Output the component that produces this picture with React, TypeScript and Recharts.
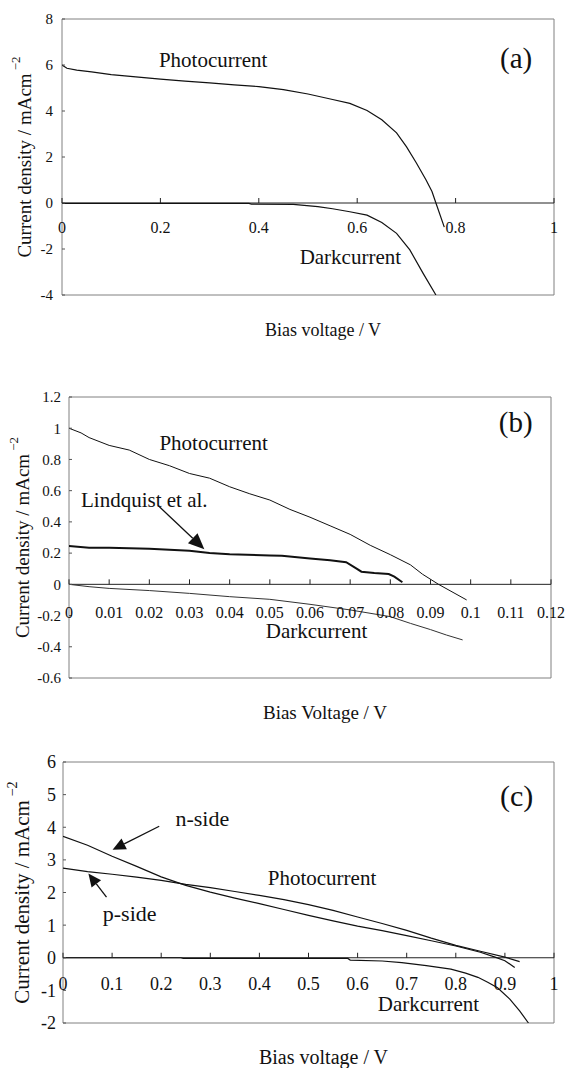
import React from 'react';
import {
  LineChart,
  Line,
  XAxis,
  YAxis,
  ReferenceLine,
  ReferenceArea,
  ReferenceDot,
} from 'recharts';

const FONT = "'Liberation Serif', 'Times New Roman', Times, serif";
const INK = '#111';

type Pt = [number, number];

// ---------- Panel (a) ----------
const aXTicks = [0, 0.2, 0.4, 0.6, 0.8, 1];
const aXTickLabels = ['0', '0.2', '0.4', '0.6', '0.8', '1'];
const aYTicks = [-4, -2, 0, 2, 4, 6, 8];
const aPhotocurrent: Pt[] = [
  [0, 6.0], [0.01, 5.86], [0.03, 5.78], [0.06, 5.7], [0.1, 5.58], [0.15, 5.48],
  [0.2, 5.39], [0.25, 5.3], [0.3, 5.22], [0.35, 5.14], [0.4, 5.06], [0.45, 4.93],
  [0.5, 4.74], [0.55, 4.5], [0.585, 4.33], [0.62, 4.02], [0.65, 3.62], [0.68, 3.05],
  [0.7, 2.45], [0.72, 1.75], [0.74, 1.0], [0.752, 0.5], [0.76, 0], [0.777, -1.05],
];
const aDarkcurrent: Pt[] = [
  [0, -0.02], [0.38, -0.02], [0.385, -0.05], [0.47, -0.06], [0.52, -0.16],
  [0.55, -0.25], [0.585, -0.38], [0.62, -0.53], [0.65, -0.85], [0.68, -1.32],
  [0.707, -2.04], [0.734, -3.06], [0.76, -4.0],
];

// ---------- Panel (b) ----------
const bXTicks = [0, 0.01, 0.02, 0.03, 0.04, 0.05, 0.06, 0.07, 0.08, 0.09, 0.1, 0.11, 0.12];
const bXTickLabels = ['0', '0.01', '0.02', '0.03', '0.04', '0.05', '0.06', '0.07', '0.08', '0.09', '0.1', '0.11', '0.12'];
const bYTicks = [-0.6, -0.4, -0.2, 0, 0.2, 0.4, 0.6, 0.8, 1, 1.2];
const bPhotocurrent: Pt[] = [
  [0, 1.0], [0.003, 0.97], [0.005, 0.94], [0.01, 0.89], [0.015, 0.86], [0.02, 0.8],
  [0.025, 0.76], [0.03, 0.71], [0.035, 0.68], [0.04, 0.625], [0.045, 0.58],
  [0.05, 0.54], [0.055, 0.48], [0.06, 0.43], [0.065, 0.375], [0.07, 0.32],
  [0.075, 0.25], [0.08, 0.19], [0.085, 0.125], [0.088, 0.065], [0.092, 0], [0.099, -0.1],
];
const bLindquist: Pt[] = [
  [0, 0.245], [0.005, 0.235], [0.01, 0.235], [0.02, 0.228], [0.03, 0.215],
  [0.035, 0.2], [0.04, 0.192], [0.05, 0.185], [0.053, 0.183], [0.06, 0.165],
  [0.065, 0.155], [0.069, 0.142], [0.0715, 0.102], [0.0728, 0.081], [0.076, 0.072],
  [0.0796, 0.066], [0.081, 0.049], [0.083, 0.013],
];
const bDarkcurrent: Pt[] = [
  [0, 0], [0.005, -0.015], [0.01, -0.026], [0.02, -0.04], [0.03, -0.058],
  [0.04, -0.079], [0.05, -0.096], [0.06, -0.128], [0.07, -0.164], [0.08, -0.207],
  [0.085, -0.25], [0.09, -0.29], [0.094, -0.325], [0.098, -0.356],
];

// ---------- Panel (c) ----------
const cXTicks = [0, 0.1, 0.2, 0.3, 0.4, 0.5, 0.6, 0.7, 0.8, 0.9, 1];
const cXTickLabels = ['0', '0.1', '0.2', '0.3', '0.4', '0.5', '0.6', '0.7', '0.8', '0.9', '1'];
const cYTicks = [-2, -1, 0, 1, 2, 3, 4, 5, 6];
const cNSide: Pt[] = [
  [0, 3.72], [0.05, 3.45], [0.1, 3.11], [0.15, 2.8], [0.2, 2.48], [0.25, 2.22],
  [0.3, 2.01], [0.35, 1.83], [0.4, 1.66], [0.45, 1.48], [0.5, 1.3], [0.55, 1.13],
  [0.6, 0.97], [0.65, 0.83], [0.7, 0.68], [0.75, 0.52], [0.8, 0.36], [0.85, 0.17],
  [0.88, 0.02], [0.9, -0.09], [0.92, -0.3],
];
const cPSide: Pt[] = [
  [0, 2.75], [0.05, 2.64], [0.1, 2.56], [0.15, 2.47], [0.2, 2.37], [0.25, 2.25],
  [0.3, 2.15], [0.35, 2.03], [0.4, 1.91], [0.45, 1.78], [0.5, 1.63], [0.55, 1.45],
  [0.6, 1.25], [0.65, 1.05], [0.7, 0.84], [0.75, 0.6], [0.8, 0.38], [0.85, 0.2],
  [0.9, 0.02], [0.93, -0.12],
];
const cDarkcurrent: Pt[] = [
  [0, 0], [0.24, 0], [0.245, -0.02], [0.58, -0.02], [0.585, -0.07], [0.65, -0.1],
  [0.69, -0.15], [0.74, -0.24], [0.79, -0.35], [0.82, -0.47], [0.845, -0.6],
  [0.865, -0.75], [0.885, -0.92], [0.91, -1.27], [0.93, -1.63], [0.948, -2.0],
];

const rows = (pts: Pt[]) => pts.map(([v, j]) => ({ v, j }));

// ---------- helpers ----------
const textShape = (text: string, size: number, anchor: 'start' | 'middle' = 'start') =>
  (p: any) => (
    <text
      x={p.cx}
      y={p.cy}
      textAnchor={anchor}
      dominantBaseline="central"
      style={{ fontFamily: FONT, fontSize: size }}
      fill={INK}
    >
      {text}
    </text>
  );

const xTickShape = (label: string, size: number, dy: number) => (p: any) => (
  <g>
    <line x1={p.cx} y1={p.cy} x2={p.cx} y2={p.cy - 5} stroke="#222" strokeWidth={1} />
    <text
      x={p.cx}
      y={p.cy + dy}
      textAnchor="middle"
      dominantBaseline="central"
      style={{ fontFamily: FONT, fontSize: size }}
      fill={INK}
    >
      {label}
    </text>
  </g>
);

const arrowShape = (head: number, half: number) => (p: any) => {
  const { x1, y1, x2, y2 } = p;
  const dx = x2 - x1;
  const dy = y2 - y1;
  const len = Math.sqrt(dx * dx + dy * dy) || 1;
  const ux = dx / len;
  const uy = dy / len;
  const bx = x2 - ux * head;
  const by = y2 - uy * head;
  const pts = `${x2},${y2} ${bx - uy * half},${by + ux * half} ${bx + uy * half},${by - ux * half}`;
  return (
    <g>
      <line x1={x1} y1={y1} x2={bx} y2={by} stroke={INK} strokeWidth={1.3} />
      <polygon points={pts} fill={INK} />
    </g>
  );
};

const yTitle = (size: number, cxOff: number) => (props: any) => {
  const vb = props.viewBox || {};
  const cx = (vb.x || 0) + cxOff;
  const cy = (vb.y || 0) + (vb.height || 0) / 2;
  return (
    <text
      x={cx}
      y={cy}
      transform={`rotate(-90 ${cx} ${cy})`}
      textAnchor="middle"
      dominantBaseline="central"
      style={{ fontFamily: FONT, fontSize: size }}
      fill={INK}
    >
      Current density / mAcm
      <tspan dy={-size * 0.5} style={{ fontSize: size * 0.68 }}>
        {' −2'}
      </tspan>
    </text>
  );
};

const xTitle = (text: string, size: number, dy: number, dx: number) => (props: any) => {
  const vb = props.viewBox || {};
  const cx = (vb.x || 0) + (vb.width || 0) / 2 + dx;
  const cy = (vb.y || 0) + dy;
  return (
    <text
      x={cx}
      y={cy}
      textAnchor="middle"
      dominantBaseline="central"
      style={{ fontFamily: FONT, fontSize: size }}
      fill={INK}
    >
      {text}
    </text>
  );
};

export default function App() {
  return (
    <div style={{ position: 'absolute', left: 0, top: 0, width: 567, height: 1068, background: '#fff', fontFamily: FONT }}>
      {/* Panel (a) */}
      <div style={{ position: 'absolute', left: 0, top: 0 }}>
        <LineChart width={567} height={350} margin={{ top: 19, right: 13, bottom: 0, left: 0 }} style={{ fontFamily: FONT }}>
          <XAxis
            type="number"
            dataKey="v"
            domain={[0, 1]}
            allowDataOverflow
            ticks={aXTicks}
            tick={false}
            tickLine={false}
            axisLine={false}
            height={55}
            label={{ content: xTitle('Bias voltage / V', 18, 35, 15) }}
          />
          <YAxis
            type="number"
            domain={[-4, 8]}
            allowDataOverflow
            ticks={aYTicks}
            interval={0}
            width={62}
            axisLine={false}
            tickSize={-3}
            tickMargin={12}
            tickLine={{ stroke: '#555' }}
            tick={{ fontSize: 15, fill: INK, fontFamily: FONT }}
            label={{ content: yTitle(19, 24) }}
          />
          <ReferenceArea x1={0} x2={1} y1={-4} y2={8} fill="none" fillOpacity={0} stroke="#808080" strokeWidth={1} ifOverflow="visible" />
          <ReferenceLine y={0} stroke="#222" strokeWidth={1} />
          {aXTicks.map((t, i) => (
            <ReferenceDot key={'ax' + t} x={t} y={0} r={0} ifOverflow="visible" shape={xTickShape(aXTickLabels[i], 16, 24)} />
          ))}
          <Line data={rows(aPhotocurrent)} dataKey="j" type="linear" stroke={INK} strokeWidth={1.2} dot={false} activeDot={false} isAnimationActive={false} />
          <Line data={rows(aDarkcurrent)} dataKey="j" type="linear" stroke={INK} strokeWidth={1.2} dot={false} activeDot={false} isAnimationActive={false} />
          <ReferenceDot x={0.197} y={6.2} r={0} shape={textShape('Photocurrent', 21)} />
          <ReferenceDot x={0.483} y={-2.33} r={0} shape={textShape('Darkcurrent', 21)} />
          <ReferenceDot x={0.923} y={6.3} r={0} shape={textShape('(a)', 29, 'middle')} />
        </LineChart>
      </div>

      {/* Panel (b) */}
      <div style={{ position: 'absolute', left: 0, top: 350 }}>
        <LineChart width={567} height={385} margin={{ top: 47, right: 16, bottom: 0, left: 0 }} style={{ fontFamily: FONT }}>
          <XAxis
            type="number"
            dataKey="v"
            domain={[0, 0.12]}
            allowDataOverflow
            ticks={bXTicks}
            tick={false}
            tickLine={false}
            axisLine={false}
            height={57}
            label={{ content: xTitle('Bias Voltage / V', 19, 34, 15) }}
          />
          <YAxis
            type="number"
            domain={[-0.6, 1.2]}
            allowDataOverflow
            ticks={bYTicks}
            interval={0}
            width={69}
            axisLine={false}
            tickSize={-3}
            tickMargin={11}
            tickLine={{ stroke: '#555' }}
            tick={{ fontSize: 15, fill: INK, fontFamily: FONT }}
            label={{ content: yTitle(19, 22) }}
          />
          <ReferenceArea x1={0} x2={0.12} y1={-0.6} y2={1.2} fill="none" fillOpacity={0} stroke="#808080" strokeWidth={1} ifOverflow="visible" />
          <ReferenceLine y={0} stroke="#222" strokeWidth={1} />
          {bXTicks.map((t, i) => (
            <ReferenceDot key={'bx' + t} x={t} y={0} r={0} ifOverflow="visible" shape={xTickShape(bXTickLabels[i], 16, 28)} />
          ))}
          <Line data={rows(bPhotocurrent)} dataKey="j" type="linear" stroke={INK} strokeWidth={1} dot={false} activeDot={false} isAnimationActive={false} />
          <Line data={rows(bLindquist)} dataKey="j" type="linear" stroke={INK} strokeWidth={2} dot={false} activeDot={false} isAnimationActive={false} />
          <Line data={rows(bDarkcurrent)} dataKey="j" type="linear" stroke="#333" strokeWidth={1} dot={false} activeDot={false} isAnimationActive={false} />
          <ReferenceLine segment={[{ x: 0.0225, y: 0.497 }, { x: 0.0337, y: 0.225 }]} shape={arrowShape(16, 7)} />
          <ReferenceDot x={0.0225} y={0.906} r={0} shape={textShape('Photocurrent', 21)} />
          <ReferenceDot x={0.003} y={0.54} r={0} shape={textShape('Lindquist et al.', 21)} />
          <ReferenceDot x={0.049} y={-0.3} r={0} shape={textShape('Darkcurrent', 21)} />
          <ReferenceDot x={0.1112} y={1.04} r={0} shape={textShape('(b)', 29, 'middle')} />
        </LineChart>
      </div>

      {/* Panel (c) */}
      <div style={{ position: 'absolute', left: 0, top: 720 }}>
        <LineChart width={567} height={348} margin={{ top: 42, right: 13, bottom: 0, left: 0 }} style={{ fontFamily: FONT }}>
          <XAxis
            type="number"
            dataKey="v"
            domain={[0, 1]}
            allowDataOverflow
            ticks={cXTicks}
            tick={false}
            tickLine={false}
            axisLine={false}
            height={45}
            label={{ content: xTitle('Bias voltage / V', 20, 34, 15) }}
          />
          <YAxis
            type="number"
            domain={[-2, 6]}
            allowDataOverflow
            ticks={cYTicks}
            interval={0}
            width={63}
            axisLine={false}
            tickSize={-3}
            tickMargin={10}
            tickLine={{ stroke: '#555' }}
            tick={{ fontSize: 18, fill: INK, fontFamily: FONT }}
            label={{ content: yTitle(21, 22) }}
          />
          <ReferenceArea x1={0} x2={1} y1={-2} y2={6} fill="none" fillOpacity={0} stroke="#808080" strokeWidth={1} ifOverflow="visible" />
          <ReferenceLine y={0} stroke="#222" strokeWidth={1} />
          {cXTicks.map((t, i) => (
            <ReferenceDot key={'cx' + t} x={t} y={0} r={0} ifOverflow="visible" shape={xTickShape(cXTickLabels[i], 18, 26)} />
          ))}
          <Line data={rows(cNSide)} dataKey="j" type="linear" stroke={INK} strokeWidth={1.2} dot={false} activeDot={false} isAnimationActive={false} />
          <Line data={rows(cPSide)} dataKey="j" type="linear" stroke={INK} strokeWidth={1.2} dot={false} activeDot={false} isAnimationActive={false} />
          <Line data={rows(cDarkcurrent)} dataKey="j" type="linear" stroke={INK} strokeWidth={1.2} dot={false} activeDot={false} isAnimationActive={false} />
          <ReferenceLine segment={[{ x: 0.196, y: 4.03 }, { x: 0.101, y: 3.31 }]} shape={arrowShape(13, 6)} />
          <ReferenceLine segment={[{ x: 0.0886, y: 1.86 }, { x: 0.0517, y: 2.58 }]} shape={arrowShape(13, 6)} />
          <ReferenceDot x={0.229} y={4.26} r={0} shape={textShape('n-side', 22)} />
          <ReferenceDot x={0.081} y={1.35} r={0} shape={textShape('p-side', 22)} />
          <ReferenceDot x={0.417} y={2.44} r={0} shape={textShape('Photocurrent', 21)} />
          <ReferenceDot x={0.641} y={-1.43} r={0} shape={textShape('Darkcurrent', 21)} />
          <ReferenceDot x={0.924} y={4.98} r={0} shape={textShape('(c)', 30, 'middle')} />
        </LineChart>
      </div>
    </div>
  );
}
